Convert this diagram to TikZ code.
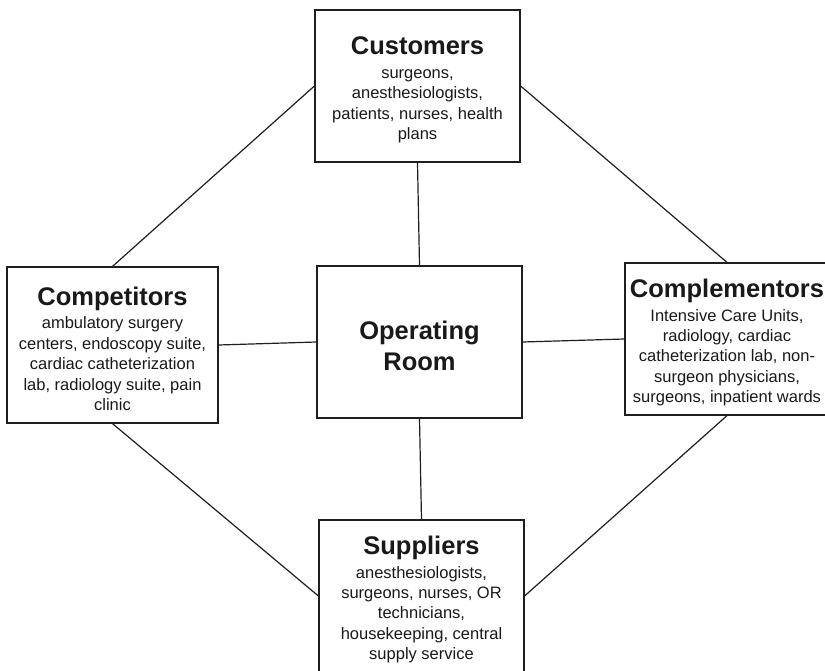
\documentclass[tikz,border=0pt]{standalone}
\usepackage{fontspec}
\setmainfont{Liberation Sans}
\newcommand{\ttlfont}{\bfseries\fontsize{25.5}{31}\selectfont}
\newcommand{\subfnt}{\fontsize{16.5}{20.4}\selectfont}
\newcommand{\ttlline}[1]{{\ttlfont\rule{0pt}{26pt}#1}\\[3pt]}
\begin{document}
\begin{tikzpicture}[x=1pt,y=-1pt,
  box/.style={draw=black!88,line width=1.2pt,minimum width=205pt,minimum height=152pt,
    align=center,inner sep=0pt,font=\subfnt,text=black!90},
  link/.style={draw=black!88,line width=1.2pt}]
\clip (0,0) rectangle (825,671);
\fill[white] (0,0) rectangle (825,671);
\node[box] (cust) at (417.5,86) {\ttlline{Customers}surgeons,\\anesthesiologists,\\patients, nurses, health\\plans};
\node[box,minimum width=211pt,minimum height=156pt] (comp) at (112.5,345) {\ttlline{Competitors}ambulatory surgery\\centers, endoscopy suite,\\cardiac catheterization\\lab, radiology suite, pain\\clinic};
\node[box,font=\ttlfont] (or) at (419.5,342) {\rule{0pt}{26pt}Operating\\Room};
\node[box,minimum width=204pt] (cmpl) at (727,339) {\ttlline{Complementors}Intensive Care Units,\\radiology, cardiac\\catheterization lab, non-\\surgeon physicians,\\surgeons, inpatient wards};
\node[box] (supp) at (421.5,596) {\ttlline{Suppliers}anesthesiologists,\\surgeons, nurses, OR\\technicians,\\housekeeping, central\\supply service};
\draw[link] (cust.west) -- (comp.north);
\draw[link] (cust.east) -- (cmpl.north);
\draw[link] (comp.south) -- (supp.west);
\draw[link] (cmpl.south) -- (supp.east);
\draw[link] (cust.south) -- (or.north);
\draw[link] (or.south) -- (supp.north);
\draw[link] (comp.east) -- (or.west);
\draw[link] (or.east) -- (cmpl.west);
\end{tikzpicture}
\end{document}
